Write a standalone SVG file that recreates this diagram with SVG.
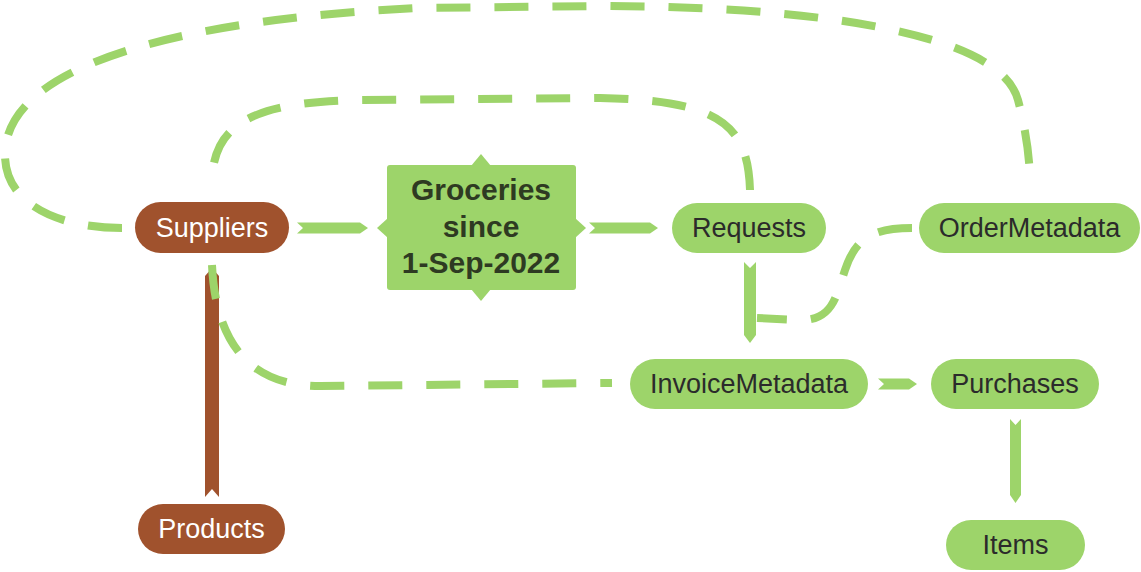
<svg xmlns="http://www.w3.org/2000/svg" width="1141" height="572" viewBox="0 0 1141 572">
<style>
.pill-b{fill:#A0522D}
.pill-g{fill:#9DD46A}
.t-w{font-family:"Liberation Sans",Arial,sans-serif;font-size:27px;fill:#ffffff;text-anchor:middle}
.t-d{font-family:"Liberation Sans",Arial,sans-serif;font-size:27px;fill:#2b2b2b;text-anchor:middle}
.t-box{font-family:"Liberation Sans",Arial,sans-serif;font-size:30px;font-weight:bold;fill:#2e3a22;text-anchor:middle}
.arr{fill:#9DD46A}
.arr-b{fill:#A0522D}
.dash{fill:none;stroke:#9DD46A;stroke-width:8;stroke-dasharray:34 24}
</style>
<rect width="1141" height="572" fill="#ffffff"/>
<g id="connectors">
<polygon class="arr-b" points="205,497 212,489 219,497 219,276 212,268 205,276"/>
<path class="dash" d="M122,228 C60,228 5,205 5,155 C5,60 200,18 420,8 L600,6 C800,6 1000,30 1018,100 C1026,130 1030,160 1030,183"/>
<path class="dash" d="M750,190 C748,125 720,100 600,98 L360,100 C250,102 212,125 212,184"/>
<path class="dash" d="M212,265 C215,330 240,386 320,386 L612,383"/>
<path class="dash" d="M912,228 C870,228 855,240 845,270 C835,300 832,320 800,320 L757,318"/>
<polygon class="arr" points="297,222.5 360,222.5 368,228 360,233.5 297,233.5 303,228"/>
<polygon class="arr" points="589,222.5 650,222.5 658,228 650,233.5 589,233.5 595,228"/>
<polygon class="arr" points="878,378.5 909,378.5 917,384 909,389.5 878,389.5 884,384"/>
<polygon class="arr" points="744,262 750,268 756,262 756,335 750,343 744,335"/>
<polygon class="arr" points="1010,419 1015.5,425 1021,419 1021,495 1015.5,503 1010,495"/>
</g>
<g id="node-groceries">
<rect x="387" y="165" width="189" height="125" rx="3" class="pill-g"/>
<polygon class="pill-g" points="471,166 481,154 491,166"/>
<polygon class="pill-g" points="471,289 481,301 491,289"/>
<polygon class="pill-g" points="388,218 377,228 388,238"/>
<polygon class="pill-g" points="575,218 586,228 575,238"/>
<text class="t-box" x="481" y="200">Groceries</text>
<text class="t-box" x="481" y="237">since</text>
<text class="t-box" x="481" y="273">1-Sep-2022</text>
</g>
<g id="node-suppliers">
<rect x="135" y="202" width="154" height="51" rx="25.5" class="pill-b"/>
<text class="t-w" x="212" y="237">Suppliers</text>
</g>
<g id="node-products">
<rect x="138" y="504" width="147" height="50" rx="25" class="pill-b"/>
<text class="t-w" x="211.5" y="538">Products</text>
</g>
<g id="node-requests">
<rect x="672" y="203" width="154" height="50" rx="25" class="pill-g"/>
<text class="t-d" x="749" y="237">Requests</text>
</g>
<g id="node-ordermetadata">
<rect x="919" y="203" width="221" height="50" rx="25" class="pill-g"/>
<text class="t-d" x="1029.5" y="237">OrderMetadata</text>
</g>
<g id="node-invoicemetadata">
<rect x="630" y="359" width="238" height="50" rx="25" class="pill-g"/>
<text class="t-d" x="749" y="393">InvoiceMetadata</text>
</g>
<g id="node-purchases">
<rect x="931" y="359" width="168" height="50" rx="25" class="pill-g"/>
<text class="t-d" x="1015" y="393">Purchases</text>
</g>
<g id="node-items">
<rect x="946" y="520" width="139" height="50" rx="25" class="pill-g"/>
<text class="t-d" x="1015.5" y="554">Items</text>
</g>
</svg>
